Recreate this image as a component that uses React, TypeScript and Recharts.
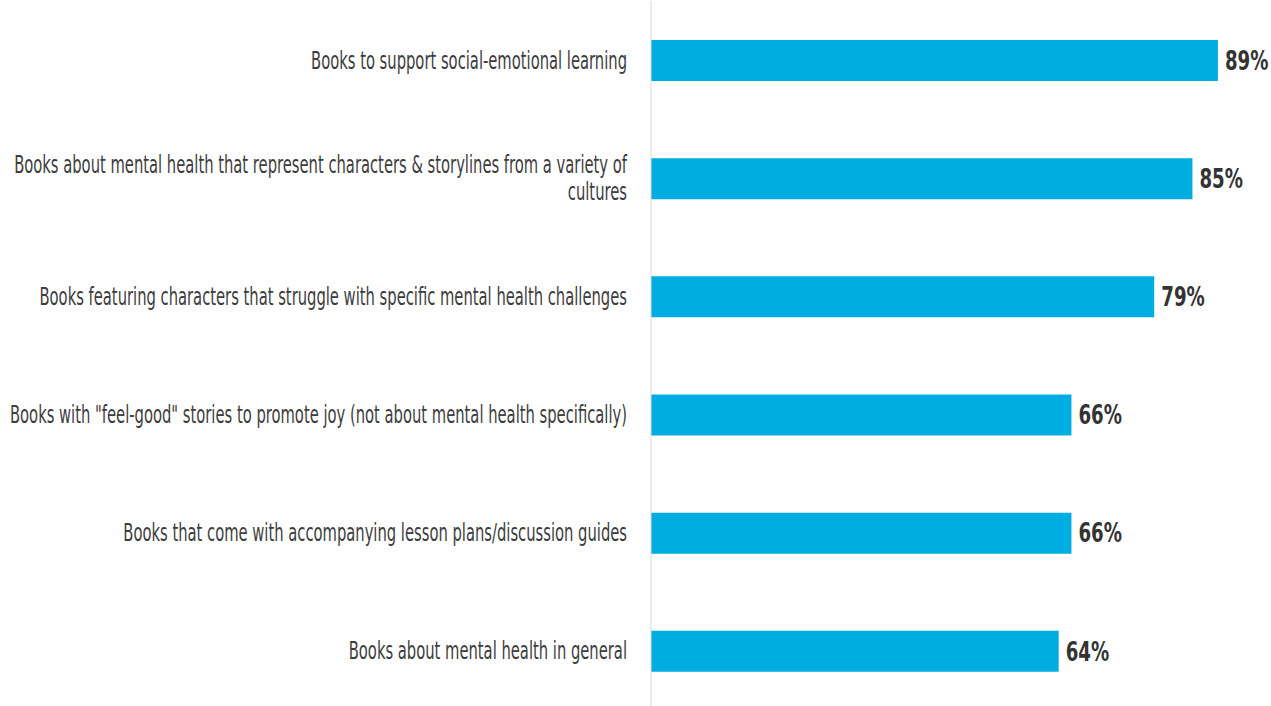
import React from 'react';
import { BarChart, Bar, XAxis, YAxis, LabelList } from 'recharts';

const categories = [
  'Books to support social-emotional learning',
  'Books about mental health that represent characters & storylines from a variety of\ncultures',
  'Books featuring characters that struggle with specific mental health challenges',
  'Books with "feel-good" stories to promote joy (not about mental health specifically)',
  'Books that come with accompanying lesson plans/discussion guides',
  'Books about mental health in general',
];

const percentages = [89, 85, 79, 66, 66, 64];

const FONT = '"DejaVu Sans", sans-serif';
// no condensed face installed, so squeeze the text horizontally
const SQUEEZE = 0.615;

const CategoryTick = (props: any) => {
  const { x, y, payload } = props;
  const lines: string[] = String(payload.value).split('\n');
  const lineHeight = 27;
  const startY = -((lines.length - 1) * lineHeight) / 2;
  return (
    <g transform={`translate(${x},${y}) scale(${SQUEEZE},1)`}>
      <text
        x={0}
        y={startY}
        textAnchor="end"
        dominantBaseline="central"
        fill="#3d3d3d"
        fontFamily={FONT}
        fontSize={24}
      >
        {lines.map((line, i) => (
          <tspan key={i} x={0} y={startY + i * lineHeight}>
            {line}
          </tspan>
        ))}
      </text>
    </g>
  );
};

const ValueLabel = (props: any) => {
  const { x, y, width, height, value } = props;
  return (
    <g transform={`translate(${Number(x) + Number(width) + 7},${Number(y) + Number(height) / 2}) scale(0.7,1)`}>
      <text
        x={0}
        y={0}
        textAnchor="start"
        dominantBaseline="central"
        fill="#333333"
        fontFamily={FONT}
        fontSize={26}
        fontWeight="bold"
      >
        {`${value}%`}
      </text>
    </g>
  );
};

export default function App() {
  const data = categories.map((name, i) => ({ name, value: percentages[i] }));

  return (
    <div style={{ position: 'absolute', top: 0, left: 0, width: 1271, height: 706, overflow: 'hidden', background: '#fff' }}>
      <BarChart
        width={1288}
        height={710}
        data={data}
        layout="vertical"
        margin={{ top: 1, right: 0, bottom: 0, left: 0 }}
        barCategoryGap={0}
      >
        <XAxis type="number" domain={[0, 100]} hide />
        <YAxis
          type="category"
          dataKey="name"
          width={651}
          tickSize={0}
          tickMargin={24}
          axisLine={{ stroke: '#d9d9d9', strokeWidth: 1 }}
          tickLine={false}
          tick={<CategoryTick />}
          interval={0}
        />
        <Bar dataKey="value" fill="#00ade2" barSize={41} isAnimationActive={false}>
          <LabelList dataKey="value" content={<ValueLabel />} />
        </Bar>
      </BarChart>
    </div>
  );
}
